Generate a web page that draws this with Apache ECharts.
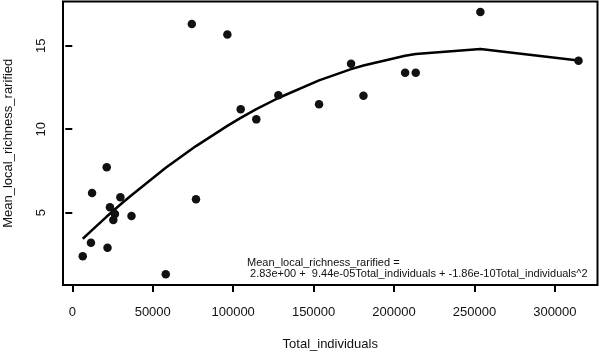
<!DOCTYPE html>
<html>
<head>
<meta charset="utf-8">
<script src="https://cdn.jsdelivr.net/npm/echarts@6/dist/echarts.min.js"></script>
<style>
html, body { margin: 0; padding: 0; background: #fff; }
#chart { width: 600px; height: 353px; }
</style>
</head>
<body>
<div id="chart"></div>
<script>
// observed points (sorted by Total_individuals)
var totalIndividuals = [6500, 11600, 12300, 21400, 21900, 23400, 25500, 26500, 29900, 36800,
	58100, 74300, 76900, 96400, 104700, 114400, 128100, 153400, 173300, 181000,
	206900, 213500, 253700, 314700];
var meanRichness = [2.39, 3.20, 6.18, 7.72, 2.90, 5.32, 4.57, 4.92, 5.92, 4.80,
	1.31, 16.30, 5.80, 15.68, 11.19, 10.59, 12.03, 11.49, 13.92, 12.01,
	13.38, 13.38, 17.02, 14.10];
// fitted curve values at the same x positions
var fittedRichness = [3.44, 3.90, 3.96, 4.77, 4.81, 4.94, 5.12, 5.20, 5.49, 6.05,
	7.69, 8.82, 8.99, 10.20, 10.68, 11.20, 11.87, 12.93, 13.60, 13.82,
	14.40, 14.51, 14.81, 14.12];

var xTicks = [0, 50000, 100000, 150000, 200000, 250000, 300000];
var yTicks = [5, 10, 15];

var xTitle = 'Total_individuals';
var yTitle = 'Mean_local_richness_rarified';
var eqText = 'Mean_local_richness_rarified =\n 2.83e+00 +  9.44e-05Total_individuals + -1.86e-10Total_individuals^2';

var fontFam = '"Liberation Sans", Arial, Helvetica, sans-serif';
var ink = '#111';

function pairs(xs, ys) {
	var out = [];
	for (var i = 0; i < xs.length; i++) {
		out.push([xs[i], ys[i]]);
	}
	return out;
}

var chart = echarts.init(document.getElementById('chart'), null, { renderer: 'canvas' });

var option = {
	backgroundColor: '#fff',
	animation: false,
	textStyle: { fontFamily: fontFam },
	grid: {
		left: 63, right: 2.5, top: 1.5, bottom: 68,
		outerBoundsMode: 'none',
		containLabel: false,
		show: true, borderColor: '#000', borderWidth: 2, backgroundColor: 'transparent'
	},
	xAxis: {
		type: 'value',
		min: -5780, max: 326500,
		splitLine: { show: false },
		axisLine: { show: false },
		axisTick: { show: true, inside: false, length: 7, customValues: xTicks,
			lineStyle: { color: '#000', width: 2 } },
		axisLabel: { customValues: xTicks, margin: 21, fontSize: 13, color: ink, fontFamily: fontFam,
			formatter: function (v) { return String(v); } },
		name: xTitle,
		nameLocation: 'middle',
		nameGap: 53,
		nameTextStyle: { fontSize: 13, color: ink, fontFamily: fontFam }
	},
	yAxis: {
		type: 'value',
		min: 0.67, max: 17.65,
		splitLine: { show: false },
		axisLine: { show: false },
		axisTick: { show: true, inside: false, length: 7, customValues: yTicks,
			lineStyle: { color: '#000', width: 2 } },
		axisLabel: { customValues: yTicks, rotate: 90, margin: 15, fontSize: 13, color: ink, fontFamily: fontFam },
		name: yTitle,
		nameLocation: 'middle',
		nameRotate: 90,
		nameGap: 48,
		nameTextStyle: { fontSize: 13, color: ink, fontFamily: fontFam }
	},
	graphic: [{
		type: 'text',
		left: 247,
		top: 257,
		style: {
			text: eqText,
			font: '11px ' + fontFam,
			lineHeight: 11.3,
			fill: ink
		}
	}],
	series: [{
		type: 'line',
		data: pairs(totalIndividuals, fittedRichness),
		showSymbol: false,
		symbol: 'none',
		lineStyle: { color: '#000', width: 2.5 },
		z: 2
	}, {
		type: 'scatter',
		data: pairs(totalIndividuals, meanRichness),
		symbol: 'circle',
		symbolSize: 8.5,
		itemStyle: { color: '#111', opacity: 1 },
		z: 3
	}]
};

chart.setOption(option);
window.addEventListener('resize', function () { chart.resize(); });
</script>
</body>
</html>
